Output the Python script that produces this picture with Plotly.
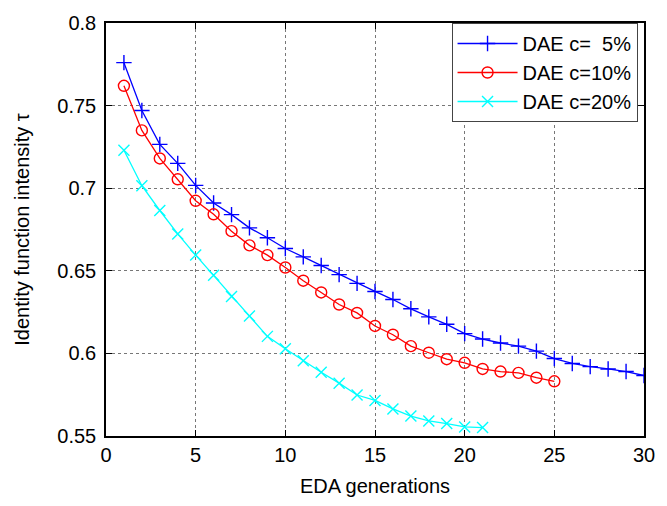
import plotly.graph_objects as go

gens_5 = list(range(1, 31))
tau_5 = [0.776, 0.747, 0.7265, 0.715, 0.7017, 0.691, 0.684, 0.676, 0.670, 0.6635,
         0.6584, 0.6532, 0.6477, 0.6424, 0.6375, 0.6326, 0.627, 0.6221, 0.6176, 0.612,
         0.6087, 0.6063, 0.6044, 0.6014, 0.5969, 0.5939, 0.592, 0.5906, 0.589, 0.5866]

gens_10 = list(range(1, 26))
tau_10 = [0.762, 0.735, 0.718, 0.7054, 0.6924, 0.6842, 0.674, 0.6654, 0.6595, 0.652,
          0.644, 0.6369, 0.6296, 0.6245, 0.6166, 0.6113, 0.6044, 0.6004, 0.5965, 0.5943,
          0.5906, 0.589, 0.5882, 0.5853, 0.5831]

gens_20 = list(range(1, 22))
tau_20 = [0.723, 0.7015, 0.6865, 0.6723, 0.6595, 0.6473, 0.6345, 0.6227, 0.6103, 0.6028,
          0.5955, 0.5886, 0.582, 0.5748, 0.5715, 0.5664, 0.5621, 0.5591, 0.5575, 0.5555,
          0.5551]

labels = ["DAE c=\u00a0\u00a05%", "DAE c=10%", "DAE c=20%"]
colors = ["#0000ff", "#ff0000", "#00ffff"]
symbols = ["cross-thin", "circle-open", "x-thin"]

x_ticks = [0, 5, 10, 15, 20, 25, 30]
y_ticks = [0.55, 0.6, 0.65, 0.7, 0.75, 0.8]
y_tick_text = ["0.55", "0.6", "0.65", "0.7", "0.75", "0.8"]

FONT = "Liberation Sans, Arial, sans-serif"
FS = 20

fig = go.Figure()
for xs, ys, lab, col, sym in zip([gens_5, gens_10, gens_20], [tau_5, tau_10, tau_20],
                                 labels, colors, symbols):
    fig.add_trace(go.Scatter(
        x=xs, y=ys, name=lab, mode="lines+markers",
        line=dict(color=col, width=1.3),
        marker=dict(symbol=sym, size=11, color=col, line=dict(color=col, width=1.4)),
    ))

axis_common = dict(
    showline=True, linecolor="black", linewidth=1.5, mirror="ticks",
    ticks="inside", ticklen=6, tickcolor="black", tickwidth=1,
    showgrid=True, gridcolor="#777777", griddash="dot", gridwidth=1,
    zeroline=False, tickfont=dict(family=FONT, size=FS, color="black"),
)

fig.update_xaxes(range=[0, 30], tickvals=x_ticks,
                 title=dict(text="EDA generations", font=dict(family=FONT, size=FS, color="black"), standoff=14),
                 **axis_common)
fig.update_yaxes(range=[0.55, 0.8], tickvals=y_ticks, ticktext=y_tick_text,
                 ticklabelstandoff=4,
                 title=dict(text="Identity function intensity τ", font=dict(family=FONT, size=FS, color="black"), standoff=22),
                 **axis_common)

fig.update_layout(
    width=667, height=506,
    margin=dict(l=106, r=14, t=19, b=64),
    paper_bgcolor="white", plot_bgcolor="white",
    font=dict(family=FONT, size=FS, color="black"),
    legend=dict(
        x=0.988, y=1.0, xanchor="right", yanchor="top",
        bgcolor="white", bordercolor="#444444", borderwidth=1,
        font=dict(family=FONT, size=FS, color="black"),
        itemwidth=60, tracegroupgap=0,
    ),
    showlegend=True,
)

fig.write_html("out.html")
